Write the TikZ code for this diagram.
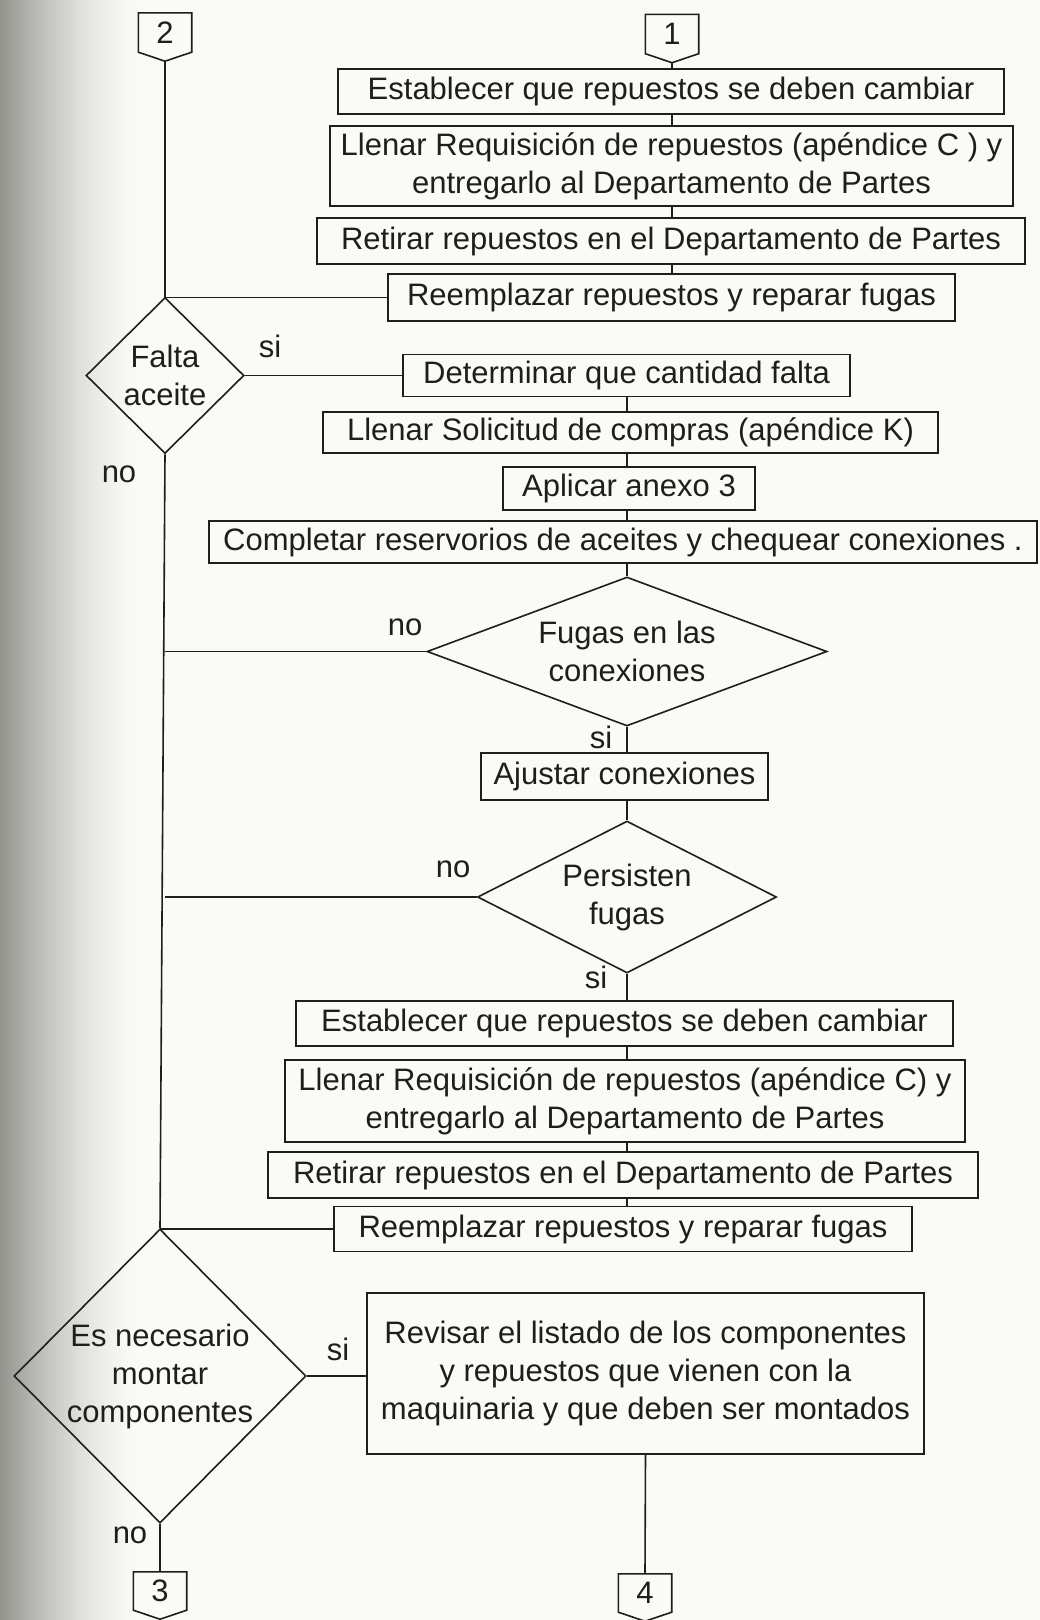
\documentclass[tikz,border=0pt]{standalone}
\usepackage{fontspec}
\setmainfont{Liberation Sans}
\usetikzlibrary{shapes.geometric}

\definecolor{paper}{RGB}{250,250,246}
\definecolor{ink}{RGB}{30,30,30}
\definecolor{bindingdark}{RGB}{146,148,141}

\tikzset{
  every node/.style={font=\fontsize{31}{38}\selectfont, text=ink},
  stepbox/.style={draw=ink, line width=1.6pt, rectangle, inner sep=0pt, align=center},
  decision/.style={draw=ink, line width=1.6pt, diamond, inner sep=0pt, align=center},
  pagetag/.style={inner sep=0pt, minimum width=53pt, minimum height=39pt},
  flow/.style={draw=ink, line width=1.6pt},
  answer/.style={inner sep=0pt},
}

% outline of an off-page connector: a box with a pointed bottom
\newcommand{\tagoutline}[1]{%
  \draw[flow, line join=miter] (#1.north west) -- (#1.north east) -- (#1.south east)
    -- ([yshift=-9pt]#1.south) -- (#1.south west) -- cycle;}

\begin{document}
\begin{tikzpicture}[x=1pt, y=-1pt]
  % page
  \fill[paper] (0,0) rectangle (1040,1620);
  \useasboundingbox (0,0) rectangle (1040,1620);
  % shadow of the binding along the left edge, as thin stripes
  \foreach \i in {0,...,69}{
    \pgfmathsetmacro{\share}{100*(1-\i/70)^1.6}
    \fill[bindingdark!\share!paper] (2*\i,0) rectangle (2*\i+2.4,1620);
  }

  % column positions of the vertical connectors
  \coordinate (colA) at (672,0);
  \coordinate (colB) at (627,0);

  % off-page connectors at the top
  \node[pagetag] (C2) at (165,32.5) {2};
  \node[pagetag] (C1) at (672,34) {1};
  \tagoutline{C2}
  \tagoutline{C1}

  % first sequence
  \node[stepbox, minimum width=666pt, minimum height=45pt] (E1) at (671,91.5)
    {Establecer que repuestos se deben cambiar};
  \node[stepbox, minimum width=683pt, minimum height=80pt] (L1) at (671.5,166)
    {Llenar Requisición de repuestos (apéndice C ) y\\entregarlo al Departamento de Partes};
  \node[stepbox, minimum width=708pt, minimum height=46pt] (R1) at (671,241)
    {Retirar repuestos en el Departamento de Partes};
  \node[stepbox, minimum width=567pt, minimum height=47pt] (P1) at (671.5,297.5)
    {Reemplazar repuestos y reparar fugas};

  % oil check
  \node[decision, minimum width=158pt, minimum height=156pt, aspect=1] (D1) at (165,375.5)
    {Falta\\aceite};
  \node[stepbox, minimum width=447pt, minimum height=42pt] (Det) at (626.5,375.5)
    {Determinar que cantidad falta};
  \node[stepbox, minimum width=615pt, minimum height=41pt] (Sol) at (630.5,432.5)
    {Llenar Solicitud de compras (apéndice K)};
  \node[stepbox, minimum width=252pt, minimum height=43pt] (Apl) at (629,488.5)
    {Aplicar anexo 3};
  \node[stepbox, minimum width=828pt, minimum height=42pt] (Com) at (623,542)
    {Completar reservorios de aceites y chequear conexiones .};

  % leak checks
  \node[decision, minimum width=400pt, minimum height=149pt, aspect=2.68] (D2) at (627,651.5)
    {Fugas en las\\conexiones};
  \node[stepbox, minimum width=287pt, minimum height=47pt] (Aju) at (624.5,776.5)
    {Ajustar conexiones};
  \node[decision, minimum width=299pt, minimum height=152pt, aspect=1.97] (D3) at (627,897)
    {Persisten\\fugas};

  % second sequence
  \node[stepbox, minimum width=657pt, minimum height=45pt] (E2) at (624.5,1023.5)
    {Establecer que repuestos se deben cambiar};
  \node[stepbox, minimum width=680pt, minimum height=82pt] (L2) at (625,1101)
    {Llenar Requisición de repuestos (apéndice C) y\\entregarlo al Departamento de Partes};
  \node[stepbox, minimum width=710pt, minimum height=46pt] (R2) at (623,1175)
    {Retirar repuestos en el Departamento de Partes};
  \node[stepbox, minimum width=578pt, minimum height=45pt] (P2) at (623,1229)
    {Reemplazar repuestos y reparar fugas};

  % components
  \node[decision, minimum width=292pt, minimum height=294pt, aspect=1] (D4) at (160,1376)
    {Es necesario\\montar\\componentes};
  \node[stepbox, minimum width=557pt, minimum height=161pt] (Rev) at (645.5,1373.5)
    {Revisar el listado de los componentes\\y repuestos que vienen con la\\maquinaria y que deben ser montados};

  % off-page connectors at the bottom
  \node[pagetag, minimum height=38pt] (C3) at (160,1591) {3};
  \node[pagetag, minimum height=38pt] (C4) at (645,1593) {4};
  \tagoutline{C3}
  \tagoutline{C4}

  % answers
  \node[answer] (a1) at (270,346) {si};
  \node[answer] (a2) at (119,474) {no};
  \node[answer] (a3) at (405,627) {no};
  \node[answer] (a4) at (601,737) {si};
  \node[answer] (a5) at (453,869) {no};
  \node[answer] (a6) at (596,977) {si};
  \node[answer] (a7) at (338,1349) {si};
  \node[answer] (a8) at (130,1535) {no};

  % connectors: first sequence
  \draw[flow] ([yshift=-9pt]C1.south) -- (E1.north -| colA);
  \draw[flow] (E1.south -| colA) -- (L1.north -| colA);
  \draw[flow] (L1.south -| colA) -- (R1.north -| colA);
  \draw[flow] (R1.south -| colA) -- (P1.north -| colA);

  % connectors: main return line on the left
  \draw[flow] ([yshift=-9pt]C2.south) -- (D1.north);
  \draw[flow] (P1.west) -- (P1.west -| D1.north);
  \draw[flow] (D1.south) -- (D4.north);
  \draw[flow] (D2.west) -- (D2.west -| D1.south);
  \draw[flow] (D3.west) -- (D3.west -| D1.south);
  \draw[flow] (P2.west) -- (P2.west -| D4.north);

  % connectors: oil branch
  \draw[flow] (D1.east) -- (D1.east -| Det.west);
  \draw[flow] (Det.south -| colB) -- (Sol.north -| colB);
  \draw[flow] (Sol.south -| colB) -- (Apl.north -| colB);
  \draw[flow] (Apl.south -| colB) -- (Com.north -| colB);
  \draw[flow] (Com.south -| colB) -- (D2.north);
  \draw[flow] (D2.south) -- (Aju.north -| D2.south);
  \draw[flow] (Aju.south -| D2.south) -- (D3.north);
  \draw[flow] (D3.south) -- (E2.north -| D3.south);
  \draw[flow] (E2.south -| colB) -- (L2.north -| colB);
  \draw[flow] (L2.south -| colB) -- (R2.north -| colB);
  \draw[flow] (R2.south -| colB) -- (P2.north -| colB);

  % connectors: components
  \draw[flow] (D4.east) -- (D4.east -| Rev.west);
  \draw[flow] (D4.south) -- (C3.north);
  \draw[flow] (Rev.south) -- (C4.north);
\end{tikzpicture}
\end{document}
